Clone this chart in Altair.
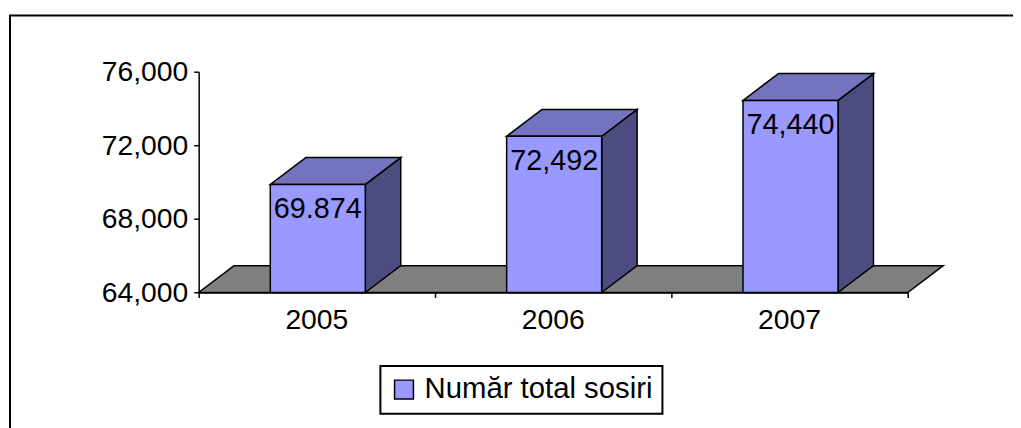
import altair as alt
import pandas as pd

# ---- data ----
years = ["2005", "2006", "2007"]
values = [69874, 72492, 74440]
value_labels = ["69.874", "72,492", "74,440"]
series_name = "Număr total sosiri"
y_ticks = [64000, 68000, 72000, 76000]

# ---- geometry / style constants ----
FONT = "Liberation Sans"
Y_MIN, Y_MAX = 64000, 76000
PLOT_W, PLOT_H = 714, 222.3
BAR_L, BAR_R = 0.303, 0.705          # bar front face inside each category band
DX = 0.15                            # depth offset (x units)
DY = 27 / PLOT_H * (Y_MAX - Y_MIN)   # depth offset (y units)
FRONT, TOP, SIDE, FLOOR = "#9999FF", "#7373BF", "#4C4C80", "#808080"
SW = 1.5

n = len(years)
front = pd.DataFrame({
    "year": years,
    "x": [i + BAR_L for i in range(n)],
    "x2": [i + BAR_R for i in range(n)],
    "xc": [i + (BAR_L + BAR_R) / 2 for i in range(n)],
    "xmid": [i + 0.5 for i in range(n)],
    "base": [Y_MIN] * n,
    "v": values,
    "label": value_labels,
    "series": [series_name] * n,
})

top_rows, side_rows = [], []
for i, (yr, v) in enumerate(zip(years, values)):
    top_rows.append({"year": yr, "y": v, "xa": i + BAR_L, "xb": i + BAR_R})
    top_rows.append({"year": yr, "y": v + DY, "xa": i + BAR_L + DX, "xb": i + BAR_R + DX})
    side_rows.append({"year": yr, "x": i + BAR_R, "ya": Y_MIN, "yb": v})
    side_rows.append({"year": yr, "x": i + BAR_R + DX, "ya": Y_MIN + DY, "yb": v + DY})
top = pd.DataFrame(top_rows)
side = pd.DataFrame(side_rows)
floor = pd.DataFrame({"y": [Y_MIN, Y_MIN + DY], "xa": [0, DX], "xb": [n, n + DX]})

x_scale = alt.Scale(domain=[0, n], nice=False, zero=False)
y_scale = alt.Scale(domain=[Y_MIN, Y_MAX], nice=False, zero=False)
x_axis = alt.Axis(values=list(range(n + 1)), labels=False, ticks=True, tickSize=5,
                  tickColor="black", domainColor="black", tickWidth=SW, domainWidth=SW,
                  grid=False, title=None)
y_axis = alt.Axis(values=y_ticks, format=",.0f", labelFontSize=28.5, labelFont=FONT,
                  labelColor="black", tickSize=5, tickColor="black", domainColor="black",
                  tickWidth=SW, domainWidth=SW, labelPadding=6, grid=False, title=None)

frame = alt.Chart(pd.DataFrame({"k": [0]})).mark_rect(
    fillOpacity=0, stroke="black", strokeWidth=2
).encode(x=alt.value(-190), x2=alt.value(840), y=alt.value(-56.7), y2=alt.value(420))

floor_l = alt.Chart(floor).mark_area(
    orient="horizontal", fill=FLOOR, stroke="black", strokeWidth=SW
).encode(
    y=alt.Y("y:Q", scale=y_scale, axis=y_axis),
    x=alt.X("xa:Q", scale=x_scale, axis=x_axis),
    x2="xb:Q",
)

side_l = alt.Chart(side).mark_area(
    orient="vertical", fill=SIDE, stroke="black", strokeWidth=SW
).encode(
    x=alt.X("x:Q", scale=x_scale, axis=x_axis),
    y=alt.Y("ya:Q", scale=y_scale, axis=y_axis),
    y2="yb:Q",
    detail="year:N",
)

top_l = alt.Chart(top).mark_area(
    orient="horizontal", fill=TOP, stroke="black", strokeWidth=SW
).encode(
    y=alt.Y("y:Q", scale=y_scale, axis=y_axis),
    x=alt.X("xa:Q", scale=x_scale, axis=x_axis),
    x2="xb:Q",
    detail="year:N",
)

front_l = alt.Chart(front).mark_rect(stroke="black", strokeWidth=SW, opacity=1).encode(
    x=alt.X("x:Q", scale=x_scale, axis=x_axis),
    x2="x2:Q",
    y=alt.Y("base:Q", scale=y_scale, axis=y_axis),
    y2="v:Q",
    color=alt.Color(
        "series:N",
        scale=alt.Scale(domain=[series_name], range=[FRONT]),
        legend=alt.Legend(
            orient="none", legendX=183, legendY=296.3, title=None,
            symbolType="square", symbolSize=361, symbolStrokeColor="black",
            symbolStrokeWidth=SW, symbolOpacity=1,
            labelFontSize=29.5, labelFont=FONT, labelColor="black",
            labelOffset=6, labelLimit=500, padding=9, strokeColor="black",
        ),
    ),
)

val_text = alt.Chart(front).mark_text(
    font=FONT, fontSize=29, color="black", baseline="middle", align="center", dy=25
).encode(
    x=alt.X("xc:Q", scale=x_scale, axis=x_axis),
    y=alt.Y("v:Q", scale=y_scale, axis=y_axis),
    text="label:N",
)

year_text = alt.Chart(front).mark_text(
    font=FONT, fontSize=28.5, color="black", baseline="middle", align="center", dy=28
).encode(
    x=alt.X("xmid:Q", scale=x_scale, axis=x_axis),
    y=alt.Y("base:Q", scale=y_scale, axis=y_axis),
    text="year:N",
)

chart = alt.layer(frame, floor_l, side_l, top_l, front_l, val_text, year_text).properties(
    width=PLOT_W,
    height=PLOT_H,
    autosize=alt.AutoSizeParams(type="none"),
    padding={"left": 192, "top": 62.7, "right": 106, "bottom": 135},
    background="white",
).configure_view(stroke=None)

try:
    chart.configure_legend(strokeWidth=2).save(
        "out.html", embed_options={"renderer": "svg", "actions": False})
except Exception:
    chart.save("out.html", embed_options={"renderer": "svg", "actions": False})
